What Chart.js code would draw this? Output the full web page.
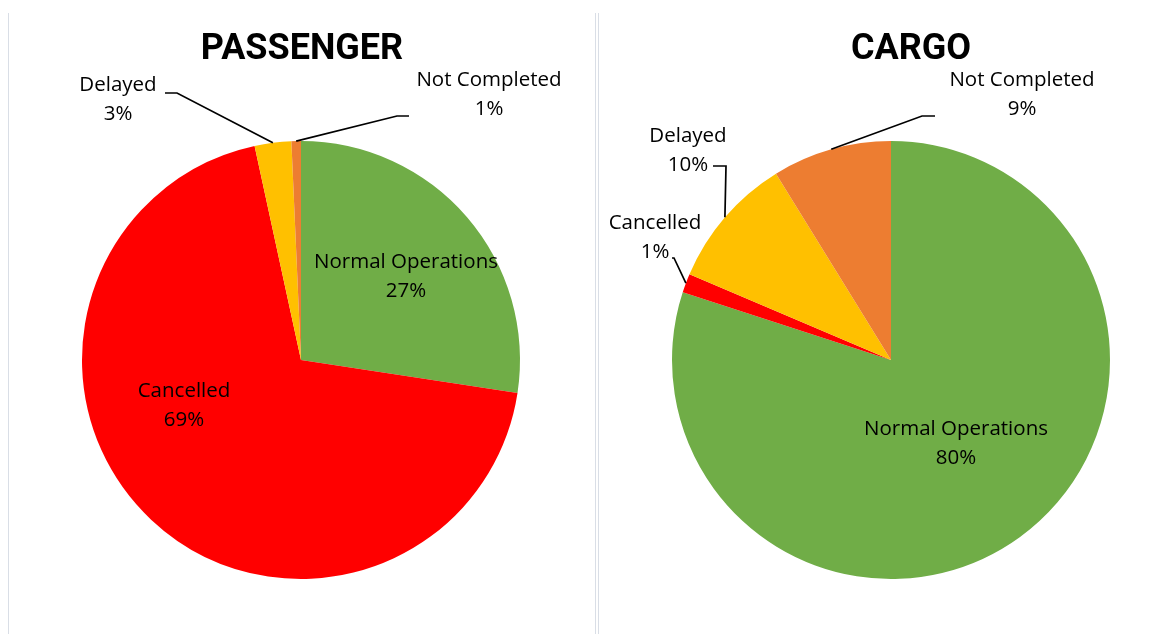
<!DOCTYPE html>
<html>
<head>
<meta charset="utf-8">
<script src="https://cdn.jsdelivr.net/npm/chart.js@4.4.1/dist/chart.umd.min.js"></script>
<style>
  html, body { margin: 0; padding: 0; background: #fff; }
  body { width: 1176px; height: 634px; position: relative; overflow: hidden; }
  .box { position: absolute; top: 0; height: 634px; }
  .vline { position: absolute; top: 13px; bottom: 0; width: 1px; background: #d9dee6; }
</style>
</head>
<body>
<div class="vline" style="left:8px"></div>
<div class="vline" style="left:595px"></div>
<div class="vline" style="left:598px"></div>
<div class="box" style="left:0;width:590px"><canvas id="passengerChart"></canvas></div>
<div class="box" style="left:590px;width:586px"><canvas id="cargoChart"></canvas></div>
<script>
const categories = ['Normal Operations', 'Cancelled', 'Delayed', 'Not Completed'];
const passengerValues = [27.4, 69.2, 2.7, 0.7];
const cargoValues = [80.0, 1.4, 9.8, 8.8];
const sliceColors = ['#70AD47', '#FF0000', '#FFC000', '#ED7D31'];

// label placement, offsets from the pie centre (first text line centre)
const passengerLabels = [
    { dx: 105, dy: -99 },
    { dx: -117, dy: 30 },
    { dx: -183, dy: -276, elbow: [-124, -267], stub: [-136, -267] },
    { dx: 188, dy: -281, elbow: [96, -244], stub: [108, -244] }
];
const cargoLabels = [
    { dx: 65, dy: 68 },
    { dx: -236, dy: -138, elbow: [-217, -102], stub: [-219, -102] },
    { dx: -203, dy: -225, elbow: [-165, -194], stub: [-178, -194] },
    { dx: 131, dy: -281, elbow: [31, -244], stub: [44, -244] }
];

const labelFont = '20.5px "Open Sans", sans-serif';

const pieLabels = {
    id: 'pieLabels',
    afterDraw(chart) {
        const ctx = chart.ctx;
        const opts = chart.options.plugins.pieLabels;
        const arcs = chart.getDatasetMeta(0).data;
        const values = chart.data.datasets[0].data;
        const total = values.reduce((a, b) => a + b, 0);
        const cx = arcs[0].x, cy = arcs[0].y;

        ctx.save();
        // title
        ctx.font = 'bold 36px Roboto, sans-serif';
        ctx.fillStyle = '#000';
        ctx.textAlign = 'center';
        ctx.textBaseline = 'middle';
        ctx.fillText(opts.title, cx + opts.titleDx, 50);

        ctx.font = labelFont;
        opts.layout.forEach((pos, i) => {
            const arc = arcs[i];
            if (pos.elbow) {
                const mid = (arc.startAngle + arc.endAngle) / 2;
                const ax = cx + Math.cos(mid) * arc.outerRadius;
                const ay = cy + Math.sin(mid) * arc.outerRadius;
                ctx.beginPath();
                ctx.strokeStyle = '#000';
                ctx.lineWidth = 1.7;
                ctx.moveTo(cx + pos.stub[0], cy + pos.stub[1]);
                ctx.lineTo(cx + pos.elbow[0], cy + pos.elbow[1]);
                ctx.lineTo(ax, ay);
                ctx.stroke();
            }
            const pct = Math.round(values[i] / total * 100) + '%';
            ctx.fillStyle = '#000';
            ctx.fillText(chart.data.labels[i], cx + pos.dx, cy + pos.dy + 1);
            ctx.fillText(pct, cx + pos.dx, cy + pos.dy + 30);
        });
        ctx.restore();
    }
};

function makePie(id, values, title, titleDx, layout, rightPad) {
    new Chart(document.getElementById(id), {
        type: 'pie',
        data: {
            labels: categories,
            datasets: [{
                data: values,
                backgroundColor: sliceColors,
                borderWidth: 0
            }]
        },
        options: {
            responsive: true,
            maintainAspectRatio: false,
            animation: false,
            layout: { padding: { left: 82, right: rightPad, top: 141, bottom: 55 } },
            plugins: {
                legend: { display: false },
                tooltip: { enabled: false },
                pieLabels: { title: title, titleDx: titleDx, layout: layout }
            }
        },
        plugins: [pieLabels]
    });
}

makePie('passengerChart', passengerValues, 'PASSENGER', 1, passengerLabels, 70);
makePie('cargoChart', cargoValues, 'CARGO', 20, cargoLabels, 66);
</script>
</body>
</html>
